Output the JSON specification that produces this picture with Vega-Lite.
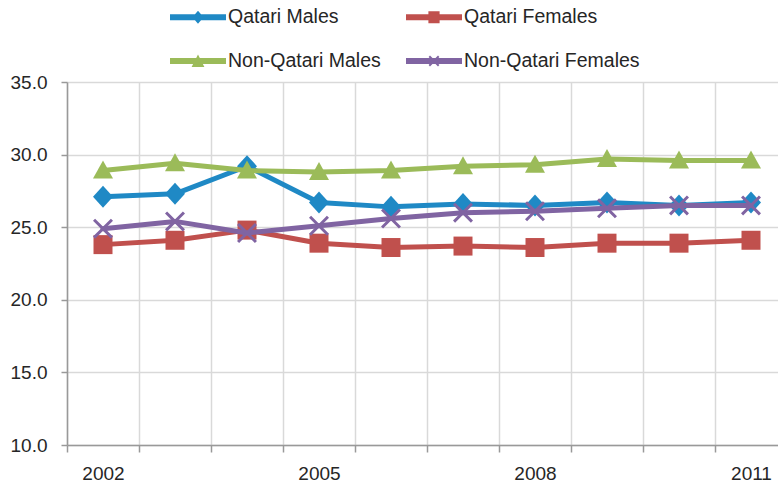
{
  "$schema": "https://vega.github.io/schema/vega-lite/v6.json",
  "width": 711,
  "height": 363,
  "autosize": {"type": "none"},
  "padding": {"left": 67, "top": 82, "right": 0, "bottom": 38},
  "background": "white",
  "config": {
    "view": {"stroke": null},
    "font": "Liberation Sans"
  },
  "data": {
    "values": [
      {"year": 2002, "series": "Qatari Males", "value": 27.1},
      {"year": 2003, "series": "Qatari Males", "value": 27.3},
      {"year": 2004, "series": "Qatari Males", "value": 29.2},
      {"year": 2005, "series": "Qatari Males", "value": 26.7},
      {"year": 2006, "series": "Qatari Males", "value": 26.4},
      {"year": 2007, "series": "Qatari Males", "value": 26.6},
      {"year": 2008, "series": "Qatari Males", "value": 26.5},
      {"year": 2009, "series": "Qatari Males", "value": 26.7},
      {"year": 2010, "series": "Qatari Males", "value": 26.5},
      {"year": 2011, "series": "Qatari Males", "value": 26.7},
      {"year": 2002, "series": "Qatari Females", "value": 23.8},
      {"year": 2003, "series": "Qatari Females", "value": 24.1},
      {"year": 2004, "series": "Qatari Females", "value": 24.8},
      {"year": 2005, "series": "Qatari Females", "value": 23.9},
      {"year": 2006, "series": "Qatari Females", "value": 23.6},
      {"year": 2007, "series": "Qatari Females", "value": 23.7},
      {"year": 2008, "series": "Qatari Females", "value": 23.6},
      {"year": 2009, "series": "Qatari Females", "value": 23.9},
      {"year": 2010, "series": "Qatari Females", "value": 23.9},
      {"year": 2011, "series": "Qatari Females", "value": 24.1},
      {"year": 2002, "series": "Non-Qatari Males", "value": 28.9},
      {"year": 2003, "series": "Non-Qatari Males", "value": 29.4},
      {"year": 2004, "series": "Non-Qatari Males", "value": 28.9},
      {"year": 2005, "series": "Non-Qatari Males", "value": 28.8},
      {"year": 2006, "series": "Non-Qatari Males", "value": 28.9},
      {"year": 2007, "series": "Non-Qatari Males", "value": 29.2},
      {"year": 2008, "series": "Non-Qatari Males", "value": 29.3},
      {"year": 2009, "series": "Non-Qatari Males", "value": 29.7},
      {"year": 2010, "series": "Non-Qatari Males", "value": 29.6},
      {"year": 2011, "series": "Non-Qatari Males", "value": 29.6},
      {"year": 2002, "series": "Non-Qatari Females", "value": 24.9},
      {"year": 2003, "series": "Non-Qatari Females", "value": 25.4},
      {"year": 2004, "series": "Non-Qatari Females", "value": 24.6},
      {"year": 2005, "series": "Non-Qatari Females", "value": 25.1},
      {"year": 2006, "series": "Non-Qatari Females", "value": 25.6},
      {"year": 2007, "series": "Non-Qatari Females", "value": 26.0},
      {"year": 2008, "series": "Non-Qatari Females", "value": 26.1},
      {"year": 2009, "series": "Non-Qatari Females", "value": 26.3},
      {"year": 2010, "series": "Non-Qatari Females", "value": 26.5},
      {"year": 2011, "series": "Non-Qatari Females", "value": 26.5}
    ]
  },
  "encoding": {
    "x": {
      "field": "year",
      "type": "quantitative",
      "scale": {"domain": [2001.5, 2011.5], "range": [0, 720], "nice": false, "zero": false},
      "axis": {
        "title": null,
        "values": [2001.5, 2002.5, 2003.5, 2004.5, 2005.5, 2006.5, 2007.5, 2008.5, 2009.5, 2010.5, 2011.5],
        "labelExpr": "(datum.value == 2001.5 || datum.value == 2004.5 || datum.value == 2007.5 || datum.value == 2010.5) ? format(datum.value + 0.5, 'd') : ''",
        "labelOffset": 36,
        "labelOverlap": false,
        "labelBound": false,
        "labelFlush": false,
        "labelFontSize": 19,
        "labelFont": "Liberation Sans",
        "labelColor": "#262626",
        "labelPadding": 12,
        "tickSize": 7,
        "tickWidth": 1.5,
        "tickColor": "#999999",
        "domainColor": "#999999",
        "domainWidth": 1.5,
        "grid": true,
        "gridColor": "#D9D9D9",
        "gridWidth": 1.5
      }
    },
    "y": {
      "field": "value",
      "type": "quantitative",
      "scale": {"domain": [10, 35], "nice": false, "zero": false},
      "axis": {
        "title": null,
        "values": [10, 15, 20, 25, 30, 35],
        "format": ".1f",
        "labelFontSize": 19,
        "labelFont": "Liberation Sans",
        "labelColor": "#262626",
        "labelPadding": 14,
        "tickSize": 6,
        "tickWidth": 1.5,
        "tickColor": "#999999",
        "domainColor": "#999999",
        "domainWidth": 1.5,
        "grid": true,
        "gridColor": "#D9D9D9",
        "gridWidth": 1.5
      }
    },
    "color": {
      "field": "series",
      "type": "nominal",
      "scale": {
        "domain": ["Qatari Males", "Qatari Females", "Non-Qatari Males", "Non-Qatari Females"],
        "range": ["#1F89C5", "#C0504D", "#9BBB59", "#8064A2"]
      },
      "legend": {
        "title": null,
        "orient": "none",
        "legendX": 111,
        "legendY": -85,
        "columns": 2,
        "direction": "horizontal",
        "padding": 0,
        "symbolSize": 1600,
        "symbolStrokeWidth": 0,
        "symbolOpacity": 1,
        "labelOffset": 10,
        "columnPadding": 25,
        "rowPadding": 14,
        "labelFontSize": 19.5,
        "labelFont": "Liberation Sans",
        "labelColor": "#262626",
        "labelLimit": 400,
        "encode": {
          "symbols": {
            "update": {
              "fill": {"signal": "scale('color', datum.value)"},
              "stroke": {"value": "transparent"},
              "opacity": {"value": 1},
              "shape": {
                "signal": "datum.value == 'Qatari Males' ? 'M-1.4,-0.15H1.4V0.15H-1.4Z M0,-0.33L0.28,0L0,0.33L-0.28,0Z' : datum.value == 'Qatari Females' ? 'M-1.4,-0.15H1.4V0.15H-1.4Z M-0.28,-0.3H0.28V0.3H-0.28Z' : datum.value == 'Non-Qatari Males' ? 'M-1.4,-0.15H1.4V0.15H-1.4Z M0,-0.32L0.32,0.3H-0.32Z' : 'M-1.4,-0.15H1.4V0.15H-1.4Z M-0.27,-0.2L-0.2,-0.27L0.27,0.2L0.2,0.27Z M0.27,-0.2L-0.2,0.27L-0.27,0.2L0.2,-0.27Z'"
              }
            }
          }
        }
      }
    }
  },
  "layer": [
    {
      "transform": [{"filter": "datum.series == 'Qatari Males'"}],
      "layer": [
        {"mark": {"type": "line", "strokeWidth": 5, "strokeCap": "round", "strokeJoin": "round"}},
        {"mark": {"type": "point", "filled": true, "opacity": 1, "size": 400, "strokeWidth": 0, "shape": "M0,-1.1L1,0L0,1.1L-1,0Z"}}
      ]
    },
    {
      "transform": [{"filter": "datum.series == 'Qatari Females'"}],
      "layer": [
        {"mark": {"type": "line", "strokeWidth": 5, "strokeCap": "round", "strokeJoin": "round"}},
        {"mark": {"type": "point", "filled": true, "opacity": 1, "size": 400, "strokeWidth": 0, "shape": "M-0.95,-0.95H0.95V0.95H-0.95Z"}}
      ]
    },
    {
      "transform": [{"filter": "datum.series == 'Non-Qatari Males'"}],
      "layer": [
        {"mark": {"type": "line", "strokeWidth": 5, "strokeCap": "round", "strokeJoin": "round"}},
        {"mark": {"type": "point", "filled": true, "opacity": 1, "size": 400, "strokeWidth": 0, "shape": "M0,-1L1,0.8H-1Z"}}
      ]
    },
    {
      "transform": [{"filter": "datum.series == 'Non-Qatari Females'"}],
      "layer": [
        {"mark": {"type": "line", "strokeWidth": 5, "strokeCap": "round", "strokeJoin": "round"}},
        {"mark": {"type": "point", "filled": true, "opacity": 1, "size": 400, "strokeWidth": 0, "shape": "M-1,-0.79L-0.79,-1L1,0.79L0.79,1Z M1,-0.79L-0.79,1L-1,0.79L0.79,-1Z"}}
      ]
    }
  ]
}
